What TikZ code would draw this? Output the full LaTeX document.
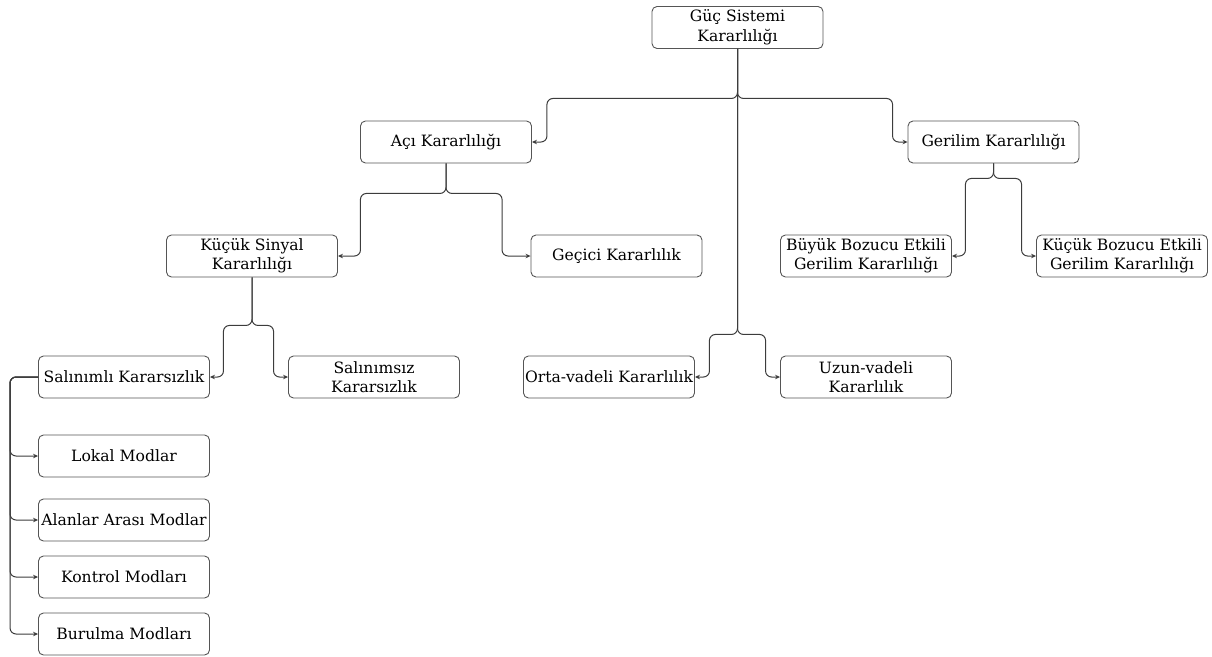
\documentclass[tikz,border=0pt]{standalone}
\usepackage{fontspec}
\setmainfont{DejaVu Serif}
\usepackage{xcolor}
\definecolor{Col1}{RGB}{85,85,85}
\definecolor{Col2}{RGB}{60,60,60}
\usepackage{tikz}
\usetikzlibrary{arrows.meta}
\tikzstyle{Box}=[rectangle,rounded corners=5pt,draw=Col1,line width=0.9pt,
minimum width=171pt,minimum height=42pt,inner xsep=1pt,inner ysep=2pt,
align=center,font=\fontsize{15.6}{19.5}\selectfont,text=black]
\tikzstyle{Link}=[draw=Col2,line width=1pt,rounded corners=6pt,
-{Stealth[length=5pt,width=4.5pt]}]

\begin{document}
\begin{tikzpicture}[x=1pt,y=-1pt]
        \useasboundingbox(0,0)rectangle(1212,656);
        \node[Box](gss)at(737.5,27.5){Güç Sistemi\\Kararlılığı};
        \node[Box](aci)at(446,142){Açı Kararlılığı};
        \node[Box](ger)at(993.5,142){Gerilim Kararlılığı};
        \node[Box](kss)at(252,256){Küçük Sinyal\\Kararlılığı};
        \node[Box](gec)at(616.5,256){Geçici Kararlılık};
        \node[Box](bbe)at(866,256){Büyük Bozucu Etkili\\Gerilim Kararlılığı};
        \node[Box](kbe)at(1122,256){Küçük Bozucu Etkili\\Gerilim Kararlılığı};
        \node[Box](sal)at(124,377){Salınımlı Kararsızlık};
        \node[Box](salz)at(374,377){Salınımsız\\Kararsızlık};
        \node[Box](orta)at(609,377){Orta-vadeli Kararlılık};
        \node[Box](uzun)at(866,377){Uzun-vadeli\\Kararlılık};
        \node[Box](lokal)at(124,456){Lokal Modlar};
        \node[Box](alan)at(124,520){Alanlar Arası Modlar};
        \node[Box](kontrol)at(124,577){Kontrol Modları};
        \node[Box](burulma)at(124,634){Burulma Modları};
        \draw[Link](gss.south)--++(0,49.5)-|([xshift=15pt]aci.east)--(aci.east);
        \draw[Link](gss.south)--++(0,49.5)-|([xshift=-15pt]ger.west)--(ger.west);
        \draw[Link](gss.south)--++(0,285.5)-|([xshift=14.5pt]orta.east)--(orta.east);
        \draw[Link](gss.south)--++(0,285.5)-|([xshift=-14.5pt]uzun.west)--(uzun.west);
        \draw[Link](aci.south)--++(0,30)-|([xshift=22.5pt]kss.east)--(kss.east);
        \draw[Link](aci.south)--++(0,30)-|([xshift=-28.5pt]gec.west)--(gec.west);
        \draw[Link](ger.south)--++(0,15)-|([xshift=13.5pt]bbe.east)--(bbe.east);
        \draw[Link](ger.south)--++(0,15)-|([xshift=-14.5pt]kbe.west)--(kbe.west);
        \draw[Link](kss.south)--++(0,48)-|([xshift=13.5pt]sal.east)--(sal.east);
        \draw[Link](kss.south)--++(0,48)-|([xshift=-14.5pt]salz.west)--(salz.west);
        \draw[Link](sal.west)--++(-28,0)|-(lokal.west);
        \draw[Link](sal.west)--++(-28,0)|-(alan.west);
        \draw[Link](sal.west)--++(-28,0)|-(kontrol.west);
        \draw[Link](sal.west)--++(-28,0)|-(burulma.west);
    \end{tikzpicture}
\end{document}
